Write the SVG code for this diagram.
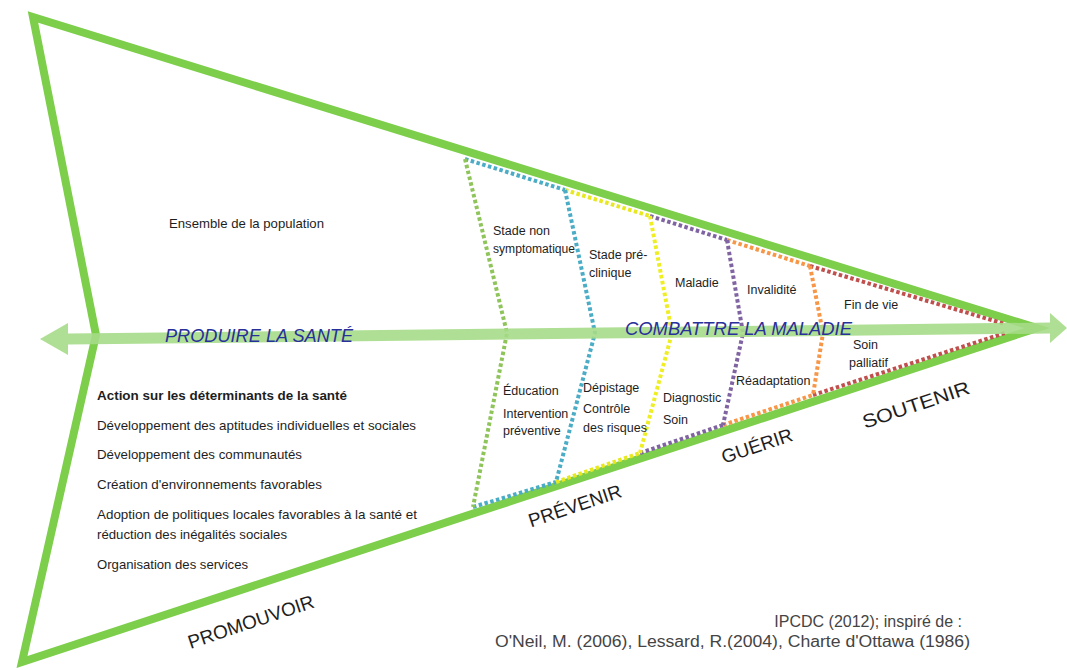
<svg xmlns="http://www.w3.org/2000/svg" width="1067" height="670" viewBox="0 0 1067 670">
<style>
.lbl{font-family:"Liberation Sans",Arial,sans-serif;font-size:12.5px;fill:#1e1e1e}
.left{font-family:"Liberation Sans",Arial,sans-serif;font-size:13px;fill:#1e1e1e}
.big{font-family:"Liberation Sans",Arial,sans-serif;font-size:19px;fill:#1e1e1e;text-anchor:middle}
.axis{font-family:"Liberation Sans",Arial,sans-serif;font-size:19px;font-style:italic;fill:#28309a}
.cite{font-family:"Liberation Sans",Arial,sans-serif;font-size:16px;fill:#444;text-anchor:end}
.dot{fill:none;stroke-width:4;stroke-dasharray:3.5 2.5}
</style>
<rect width="1067" height="670" fill="#ffffff"/>
<g id="outline">
<polygon points="33,17 1037,328 22,662 96,335" fill="none" stroke="#7dce4b" stroke-width="8" stroke-linejoin="miter" stroke-miterlimit="20"/>
</g>
<g id="connectors">
<polyline class="dot" stroke="#4bacc6" points="465,159 565,190"/>
<polyline class="dot" stroke="#e8e820" points="565,190 650,216"/>
<polyline class="dot" stroke="#8064a2" points="650,216 727,240"/>
<polyline class="dot" stroke="#f79646" points="727,240 810,266"/>
<polyline class="dot" stroke="#c0504d" points="810,266 1005,324"/>
<polyline class="dot" stroke="#4bacc6" points="473,507 556,482"/>
<polyline class="dot" stroke="#e8e820" points="556,482 640,453"/>
<polyline class="dot" stroke="#8064a2" points="640,453 723,425"/>
<polyline class="dot" stroke="#f79646" points="723,425 813,395"/>
<polyline class="dot" stroke="#c0504d" points="813,395 1005,333"/>
<polyline class="dot" stroke="#8fc45a" points="465,159 507,333 473,507"/>
<polyline class="dot" stroke="#4bacc6" points="565,190 595,333 556,482"/>
<polyline class="dot" stroke="#eeee22" points="650,216 672,333 640,453"/>
<polyline class="dot" stroke="#8064a2" points="727,240 743,333 723,425"/>
<polyline class="dot" stroke="#f79646" points="810,266 823,333 813,395"/>
<polygon id="axis-arrow" points="40,339 68,323 68,333.5 1050,322.5 1050,313 1067,328 1050,343 1050,333.5 68,344.5 68,355" fill="#a6db88" fill-opacity="0.9"/>
</g>
<g id="axis-labels">
<text class="axis" x="165" y="342" textLength="188" lengthAdjust="spacingAndGlyphs">PRODUIRE LA SANTÉ</text>
<text class="axis" x="625" y="335" textLength="227" lengthAdjust="spacingAndGlyphs">COMBATTRE LA MALADIE</text>
</g>
<g id="population">
<text class="left" x="169" y="228" textLength="155" lengthAdjust="spacingAndGlyphs">Ensemble de la population</text>
</g>
<g id="determinants">
<text class="left" x="97" y="400" font-weight="bold" textLength="250" lengthAdjust="spacingAndGlyphs">Action sur les déterminants de la santé</text>
<text class="left" x="97" y="430" textLength="319" lengthAdjust="spacingAndGlyphs">Développement des aptitudes individuelles et sociales</text>
<text class="left" x="97" y="459" textLength="205" lengthAdjust="spacingAndGlyphs">Développement des communautés</text>
<text class="left" x="97" y="489" textLength="225" lengthAdjust="spacingAndGlyphs">Création d'environnements favorables</text>
<text class="left" x="97" y="519" textLength="320" lengthAdjust="spacingAndGlyphs">Adoption de politiques locales favorables à la santé et</text>
<text class="left" x="97" y="539" textLength="190" lengthAdjust="spacingAndGlyphs">réduction des inégalités sociales</text>
<text class="left" x="97" y="569" textLength="151" lengthAdjust="spacingAndGlyphs">Organisation des services</text>
</g>
<g id="stage-asymptomatic">
<text class="lbl" x="493" y="235">Stade non</text>
<text class="lbl" x="493" y="253" textLength="82" lengthAdjust="spacingAndGlyphs">symptomatique</text>
</g>
<g id="stage-preclinical">
<text class="lbl" x="589" y="259">Stade pré-</text>
<text class="lbl" x="589" y="277">clinique</text>
</g>
<g id="stage-disease"><text class="lbl" x="675" y="287">Maladie</text></g>
<g id="stage-disability"><text class="lbl" x="747" y="294">Invalidité</text></g>
<g id="stage-endoflife"><text class="lbl" x="844" y="309">Fin de vie</text></g>
<g id="act-palliative">
<text class="lbl" x="853" y="349">Soin</text>
<text class="lbl" x="849" y="367">palliatif</text>
</g>
<g id="act-readaptation"><text class="lbl" x="736" y="385">Réadaptation</text></g>
<g id="act-education">
<text class="lbl" x="503" y="395">Éducation</text>
<text class="lbl" x="503" y="418">Intervention</text>
<text class="lbl" x="503" y="435">préventive</text>
</g>
<g id="act-screening">
<text class="lbl" x="583" y="392">Dépistage</text>
<text class="lbl" x="583" y="413">Contrôle</text>
<text class="lbl" x="583" y="432">des risques</text>
</g>
<g id="act-diagnosis">
<text class="lbl" x="663" y="402">Diagnostic</text>
<text class="lbl" x="663" y="424">Soin</text>
</g>
<g id="promouvoir"><text class="big" transform="translate(253,628) rotate(-18.5)">PROMOUVOIR</text></g>
<g id="prevenir"><text class="big" transform="translate(577,512) rotate(-18.5)">PRÉVENIR</text></g>
<g id="guerir"><text class="big" transform="translate(759,452) rotate(-18.5)">GUÉRIR</text></g>
<g id="soutenir"><text class="big" transform="translate(918,411) rotate(-18.5)" textLength="112" lengthAdjust="spacingAndGlyphs">SOUTENIR</text></g>
<g id="citation">
<text class="cite" x="962" y="627">IPCDC (2012); inspiré de :</text>
<text class="cite" x="970" y="647" textLength="475" lengthAdjust="spacingAndGlyphs">O'Neil, M. (2006), Lessard, R.(2004), Charte d'Ottawa (1986)</text>
</g>
</svg>
